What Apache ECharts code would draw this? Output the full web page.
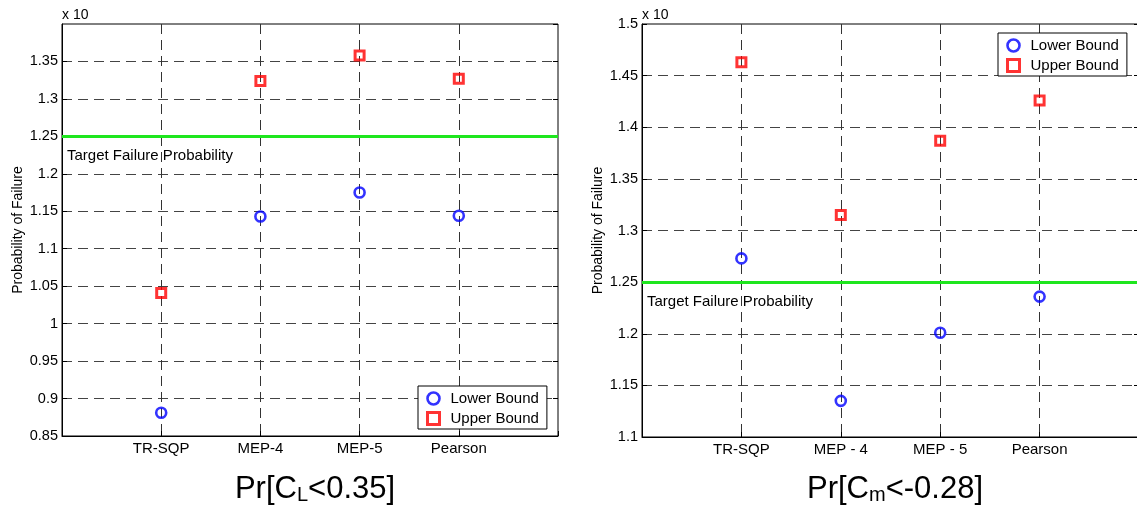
<!DOCTYPE html>
<html>
<head>
<meta charset="utf-8">
<title>Probability of Failure bounds</title>
<script src="https://cdn.jsdelivr.net/npm/echarts@6/dist/echarts.min.js"></script>
<style>
  html, body { margin: 0; padding: 0; background: #fff; }
  #chart { width: 1137px; height: 509px; }
</style>
</head>
<body>
<div id="chart"></div>
<script>
// Pr[C_L < 0.35] panel
const categoriesCL = ['TR-SQP', 'MEP-4', 'MEP-5', 'Pearson'];
const lowerCL = [0.881, 1.143, 1.175, 1.144];
const upperCL = [1.041, 1.324, 1.358, 1.327];
const yRangeCL = [0.85, 1.4];

// Pr[C_m < -0.28] panel
const categoriesCm = ['TR-SQP', 'MEP - 4', 'MEP - 5', 'Pearson'];
const lowerCm = [1.273, 1.135, 1.201, 1.236];
const upperCm = [1.463, 1.315, 1.387, 1.426];
const yRangeCm = [1.1, 1.5];

const yStep = 0.05;
const targetProbability = 1.25;
const targetLabel = 'Target Failure Probability';
const yName = 'Probability of Failure';
const scaleNote = 'x 10';

const FONT = '"Liberation Sans", Arial, Helvetica, sans-serif';
const SQUARE = 'path://M0,0H10V10H0Z';
const DASH = [10, 6];

const chart = echarts.init(document.getElementById('chart'), null, { renderer: 'canvas' });

const grids = [
  { left: 62, top: 24, width: 496, height: 412 },
  { left: 642, top: 24, width: 497, height: 413 }
];

function fmtY(v) { return String(parseFloat(v.toFixed(2))); }

function xAxisFor(gi, cats) {
  return {
    type: 'value', gridIndex: gi, min: 0, max: cats.length + 1, interval: 1,
    axisLine: { show: true, lineStyle: { color: '#000', width: 1 } },
    axisTick: { show: true, inside: true, length: 5, lineStyle: { color: '#000' } },
    axisLabel: {
      margin: 5, color: '#000', fontSize: 15, fontFamily: FONT,
      formatter: v => cats[v - 1] || ''
    },
    splitLine: {
      show: true, showMinLine: false, showMaxLine: false,
      lineStyle: { color: '#333', width: 1, type: DASH }
    }
  };
}

function yAxisFor(gi, range, showMax) {
  return {
    type: 'value', gridIndex: gi, min: range[0], max: range[1], interval: yStep,
    name: yName, nameLocation: 'middle', nameGap: 37, nameRotate: 90,
    nameTextStyle: { color: '#000', fontSize: 14, fontFamily: FONT },
    axisLine: { show: true, lineStyle: { color: '#000', width: 1 } },
    axisTick: { show: true, inside: true, length: 5, lineStyle: { color: '#000' } },
    axisLabel: {
      margin: 4, color: '#000', fontSize: 14.5, fontFamily: FONT,
      formatter: fmtY, showMaxLabel: showMax, showMinLabel: true
    },
    splitLine: {
      show: true, showMinLine: false, showMaxLine: false,
      lineStyle: { color: '#444', width: 1, type: DASH }
    }
  };
}

// right-hand border ticks
function yRightFor(gi, range) {
  return {
    type: 'value', gridIndex: gi, position: 'right', min: range[0], max: range[1], interval: yStep,
    axisLine: { show: false },
    axisTick: { show: true, inside: true, length: 5, lineStyle: { color: '#000' } },
    axisLabel: { show: false },
    splitLine: { show: false }
  };
}

function targetLine() {
  return {
    silent: true, symbol: 'none', animation: false,
    lineStyle: { color: '#1ee61e', width: 3, type: 'solid' },
    label: {
      show: true, position: 'insideStartBottom', formatter: targetLabel,
      color: '#000', fontSize: 15, fontFamily: FONT, distance: [5, 12]
    },
    emphasis: { disabled: true },
    data: [{ yAxis: targetProbability }]
  };
}

function lowerSeries(gi, vals, withTarget) {
  const s = {
    name: 'Lower Bound', type: 'scatter', xAxisIndex: gi, yAxisIndex: gi,
    symbol: 'circle', symbolSize: 10, z: 5,
    itemStyle: { color: 'rgba(0,0,0,0)', borderColor: '#0000ff', borderWidth: 2.6 },
    emphasis: { disabled: true },
    data: vals.map((v, i) => [i + 1, v])
  };
  if (withTarget) s.markLine = targetLine();
  return s;
}

function upperSeries(gi, vals) {
  return {
    name: 'Upper Bound', type: 'scatter', xAxisIndex: gi, yAxisIndex: gi,
    symbol: 'rect', symbolSize: 9, z: 5,
    itemStyle: { color: 'rgba(0,0,0,0)', borderColor: '#ff0000', borderWidth: 3 },
    emphasis: { disabled: true },
    data: vals.map((v, i) => [i + 1, v])
  };
}

function legendAt(left, top) {
  return {
    left: left, top: top, orient: 'vertical', selectedMode: false,
    backgroundColor: '#fff', borderColor: '#000', borderWidth: 1, borderRadius: 0,
    padding: [5, 8, 3, 8], itemGap: 5, itemWidth: 24, itemHeight: 12,
    textStyle: { color: '#000', fontSize: 15, fontFamily: FONT },
    data: [
      { name: 'Lower Bound', icon: 'circle', itemStyle: { borderWidth: 2.6, borderColor: '#0000ff', color: 'rgba(0,0,0,0)' } },
      { name: 'Upper Bound', icon: SQUARE, itemStyle: { borderWidth: 3, borderColor: '#ff0000', color: 'rgba(0,0,0,0)' } }
    ]
  };
}

const titleStyle = {
  color: '#000', fontSize: 31, fontWeight: 'normal', fontFamily: FONT,
  rich: { sub: { fontSize: 20, fontFamily: FONT, color: '#000', verticalAlign: 'bottom', padding: [8, 0, 0, 0] } }
};

const option = {
  backgroundColor: '#fff',
  animation: false,
  textStyle: { fontFamily: FONT },
  grid: grids.map(g => Object.assign({
    show: true, borderColor: '#000', borderWidth: 1, backgroundColor: '#fff',
    containLabel: false, outerBoundsMode: 'none'
  }, g)),
  xAxis: [xAxisFor(0, categoriesCL), xAxisFor(1, categoriesCm)],
  yAxis: [yAxisFor(0, yRangeCL, false), yAxisFor(1, yRangeCm, true), yRightFor(0, yRangeCL), yRightFor(1, yRangeCm)],
  legend: [legendAt(418, 386), legendAt(998, 33)],
  title: [
    { text: 'Pr[C{sub|L}<0.35]', left: 310, top: 469, textAlign: 'center', textStyle: titleStyle },
    { text: 'Pr[C{sub|m}<-0.28]', left: 890, top: 469, textAlign: 'center', textStyle: titleStyle }
  ],
  graphic: [
    { type: 'text', left: 62, top: 8, style: { text: scaleNote, font: '14px ' + FONT, fill: '#000' } },
    { type: 'text', left: 642, top: 8, style: { text: scaleNote, font: '14px ' + FONT, fill: '#000' } }
  ],
  series: [
    lowerSeries(0, lowerCL, true),
    upperSeries(0, upperCL),
    lowerSeries(1, lowerCm, true),
    upperSeries(1, upperCm)
  ]
};

chart.setOption(option);
</script>
</body>
</html>
